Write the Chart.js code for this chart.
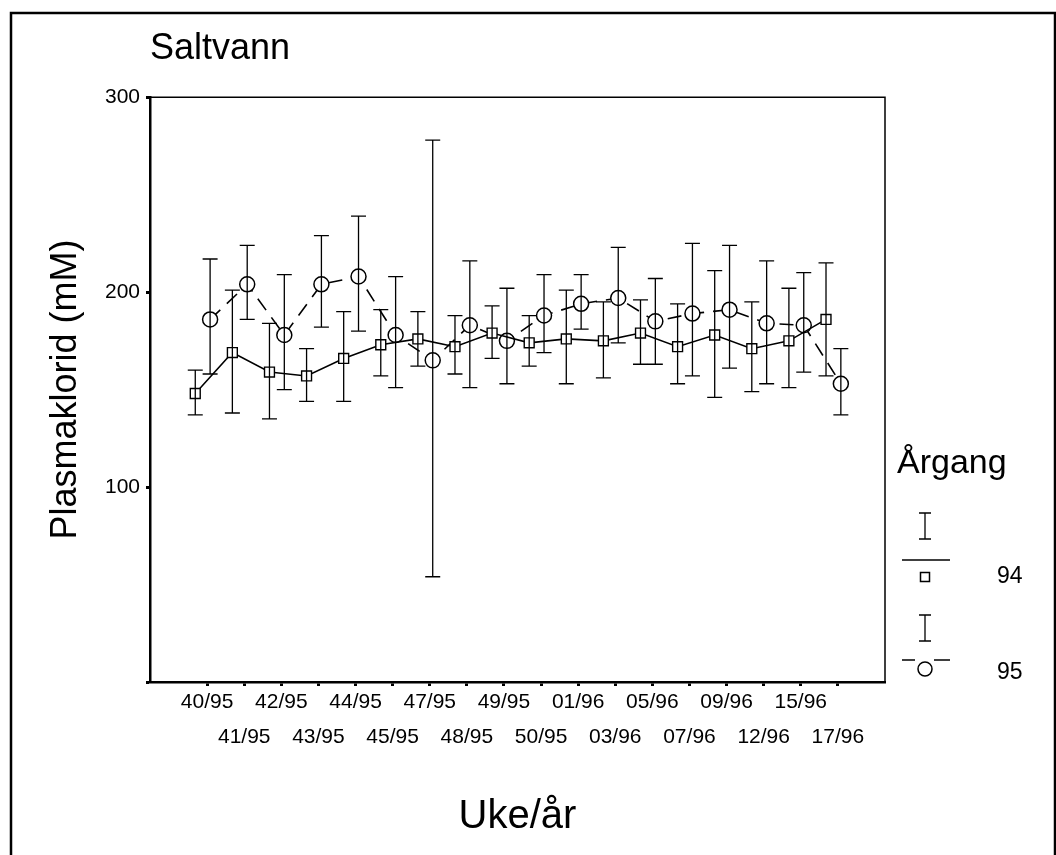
<!DOCTYPE html>
<html>
<head>
<meta charset="utf-8">
<script src="https://cdn.jsdelivr.net/npm/chart.js@4.4.0/dist/chart.umd.min.js"></script>
<style>
  html, body { margin: 0; padding: 0; background: #fff; }
</style>
</head>
<body>
<canvas id="myChart" width="1056" height="855"></canvas>
<script>
// weeks (uke/år)
const weeks = ['40/95','41/95','42/95','43/95','44/95','45/95','47/95','48/95','49/95',
               '50/95','01/96','03/96','05/96','07/96','09/96','12/96','15/96','17/96'];

// årgang 94 (squares): mean and error bar ends
const mean94 = [148, 169, 159, 157, 166, 173, 176, 172, 179, 174, 176, 175, 179, 172, 178, 171, 175, 186];
const high94 = [160, 201, 184, 171, 190, 191, 190, 188, 193, 188, 201, 195, 196, 194, 211, 195, 202, 215];
const low94  = [137, 138, 135, 144, 144, 157, 162, 158, 166, 162, 153, 156, 163, 153, 146, 149, 151, 157];

// årgang 95 (circles)
const mean95 = [186, 204, 178, 204, 208, 178, 165, 183, 175, 188, 194, 197, 185, 189, 191, 184, 183, 153];
const high95 = [217, 224, 209, 229, 239, 208, 278, 216, 202, 209, 209, 223, 207, 225, 224, 216, 210, 171];
const low95  = [158, 186, 150, 182, 180, 151,  54, 151, 153, 169, 181, 174, 163, 157, 161, 153, 159, 137];

const yTicks = [0, 100, 200, 300];
const legendLabels = ['94', '95'];

// cluster offsets inside each week
const off94 = -0.32;
const off95 = 0.08;

const FONT = "'Liberation Sans', Arial, sans-serif";

const toPoints = (mean, lo, hi, off) => mean.map((m, i) => ({ x: i + off, y: m, yMin: lo[i], yMax: hi[i] }));

const errorBars = {
  id: 'errorBars',
  afterDatasetsDraw(chart) {
    const { ctx, scales: { x, y } } = chart;
    ctx.save();
    ctx.strokeStyle = '#000';
    ctx.lineWidth = 1.3;
    chart.data.datasets.forEach(ds => {
      ds.data.forEach(p => {
        const px = x.getPixelForValue(p.x);
        const top = y.getPixelForValue(p.yMax);
        const bot = y.getPixelForValue(p.yMin);
        ctx.beginPath();
        ctx.moveTo(px, top); ctx.lineTo(px, bot);
        ctx.moveTo(px - 7.5, top); ctx.lineTo(px + 7.5, top);
        ctx.moveTo(px - 7.5, bot); ctx.lineTo(px + 7.5, bot);
        ctx.stroke();
      });
    });
    ctx.restore();
  }
};

const frames = {
  id: 'frames',
  afterDraw(chart) {
    const { ctx, chartArea: a } = chart;
    ctx.save();
    ctx.strokeStyle = '#000';
    // outer frame
    ctx.lineWidth = 2.5;
    ctx.strokeRect(11, 13, 1044, 900);
    // top and right of plot box
    ctx.lineWidth = 1.5;
    ctx.beginPath();
    ctx.moveTo(a.left, a.top); ctx.lineTo(a.right, a.top); ctx.lineTo(a.right, a.bottom);
    ctx.stroke();

    // legend
    ctx.fillStyle = '#000';
    ctx.textBaseline = 'middle';
    ctx.textAlign = 'left';
    ctx.font = '34px ' + FONT;
    ctx.fillText('Årgang', 897, 464);

    ctx.font = '23px ' + FONT;
    ctx.lineWidth = 1.3;
    const rows = [513, 615];
    rows.forEach((r, k) => {
      const cx = 925;
      // error bar glyph
      ctx.beginPath();
      ctx.moveTo(cx, r); ctx.lineTo(cx, r + 26);
      ctx.moveTo(cx - 6, r); ctx.lineTo(cx + 6, r);
      ctx.moveTo(cx - 6, r + 26); ctx.lineTo(cx + 6, r + 26);
      ctx.stroke();
      ctx.lineWidth = 1.5;
      ctx.beginPath();
      if (k === 0) {
        ctx.moveTo(902, r + 47); ctx.lineTo(950, r + 47);
        ctx.stroke();
        ctx.strokeRect(cx - 4.5, r + 59.5, 9, 9);
      } else {
        ctx.moveTo(902, r + 45); ctx.lineTo(915, r + 45);
        ctx.moveTo(934, r + 45); ctx.lineTo(950, r + 45);
        ctx.stroke();
        ctx.beginPath();
        ctx.arc(cx, r + 54, 7, 0, Math.PI * 2);
        ctx.stroke();
      }
      ctx.lineWidth = 1.3;
      ctx.fillText(legendLabels[k], 997, r + (k === 0 ? 64 : 58));
    });
    ctx.restore();
  }
};

const ctx = document.getElementById('myChart').getContext('2d');

new Chart(ctx, {
  type: 'line',
  data: {
    datasets: [{
      label: legendLabels[0],
      data: toPoints(mean94, low94, high94, off94),
      borderColor: '#000',
      borderWidth: 1.6,
      backgroundColor: '#fff',
      pointStyle: 'rect',
      pointRadius: 7,
      pointBorderWidth: 1.4,
      pointBorderColor: '#000',
      pointBackgroundColor: '#fff',
      tension: 0
    }, {
      label: legendLabels[1],
      data: toPoints(mean95, low95, high95, off95),
      borderColor: '#000',
      borderWidth: 1.6,
      borderDash: [14, 9],
      backgroundColor: '#fff',
      pointStyle: 'circle',
      pointRadius: 7.5,
      pointBorderWidth: 1.5,
      pointBorderColor: '#000',
      pointBackgroundColor: '#fff',
      tension: 0
    }]
  },
  options: {
    responsive: false,
    animation: false,
    layout: { padding: { left: 0, top: 0, right: 171, bottom: 0 } },
    plugins: {
      legend: { display: false },
      tooltip: { enabled: false },
      title: {
        display: true,
        text: 'Saltvann',
        align: 'start',
        fullSize: false,
        color: '#000',
        font: { family: FONT, size: 36, weight: 'normal', lineHeight: 1.2 },
        padding: { top: 27, bottom: 27 }
      }
    },
    scales: {
      x: {
        type: 'linear',
        min: -1.54,
        max: 18.27,
        afterFit(scale) { scale.height = 173; },
        afterBuildTicks(scale) { scale.ticks = weeks.map((w, i) => ({ value: i })); },
        grid: { drawOnChartArea: false, drawTicks: true, tickLength: 4, tickWidth: 3, tickColor: '#000' },
        border: { display: true, color: '#000', width: 2.5 },
        ticks: {
          autoSkip: false,
          maxRotation: 0,
          minRotation: 0,
          padding: -1,
          color: '#000',
          font: { family: FONT, size: 21, lineHeight: 1.65 },
          callback: (v, i) => (i % 2 === 0 ? weeks[i] : ['', weeks[i]])
        },
        title: {
          display: true,
          text: 'Uke/år',
          color: '#000',
          font: { family: FONT, size: 40, lineHeight: 1 },
          padding: { top: 0, bottom: 18 }
        }
      },
      y: {
        min: 0,
        max: 300,
        afterFit(scale) { scale.width = 150; },
        afterBuildTicks(scale) { scale.ticks = yTicks.map(v => ({ value: v })); },
        grid: { drawOnChartArea: false, drawTicks: true, tickLength: 4, tickWidth: 3, tickColor: '#000' },
        border: { display: true, color: '#000', width: 2.5 },
        ticks: {
          padding: 6,
          color: '#000',
          font: { family: FONT, size: 21 },
          callback: v => (v === 0 ? '' : String(v))
        },
        title: {
          display: true,
          text: 'Plasmaklorid (mM)',
          color: '#000',
          font: { family: FONT, size: 36, lineHeight: 1 },
          padding: { top: 48, bottom: 0 }
        }
      }
    }
  },
  plugins: [errorBars, frames]
});
</script>
</body>
</html>
